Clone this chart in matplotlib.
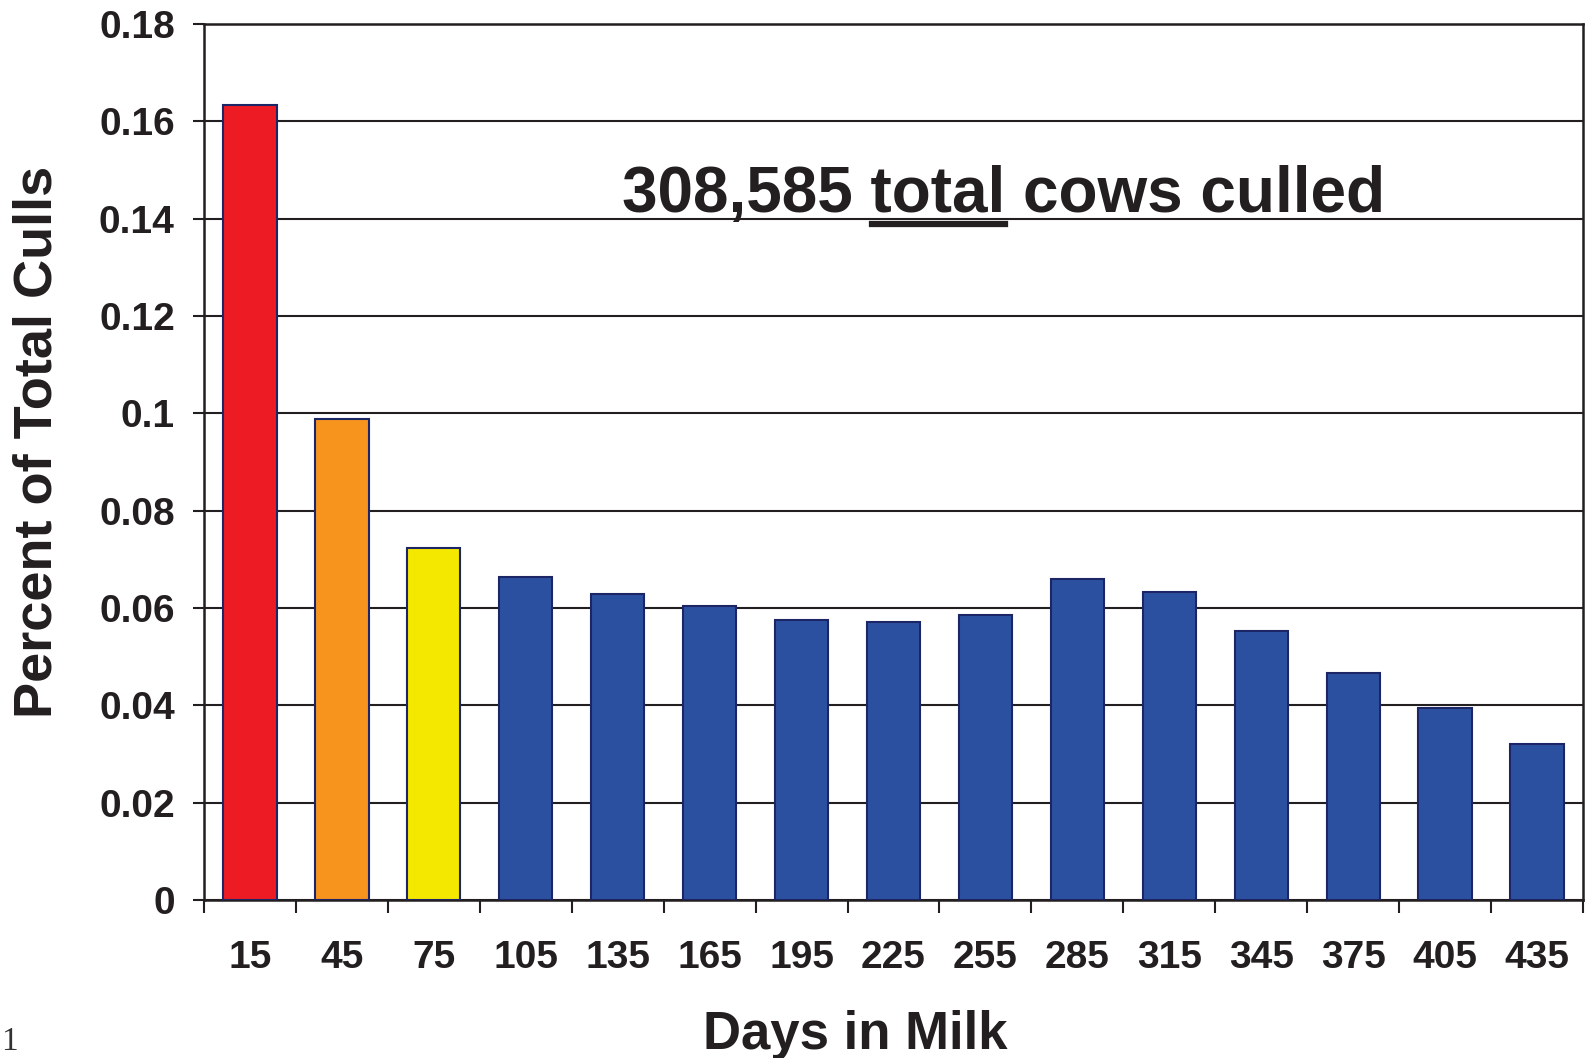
import matplotlib
matplotlib.use("Agg")
import matplotlib.pyplot as plt
from matplotlib.lines import Line2D
import numpy as np

plt.rcParams['font.family'] = ['Liberation Sans', 'DejaVu Sans']

days = ['15', '45', '75', '105', '135', '165', '195', '225', '255', '285',
        '315', '345', '375', '405', '435']
values = [0.1634, 0.0988, 0.0723, 0.0663, 0.0628, 0.0605, 0.0576, 0.0571,
          0.0586, 0.0659, 0.0632, 0.0553, 0.0467, 0.0394, 0.0321]
bar_colors = ['#ED1C24', '#F7941D', '#F5E800'] + ['#2C50A0'] * 12
ytick_vals = [0, 0.02, 0.04, 0.06, 0.08, 0.1, 0.12, 0.14, 0.16, 0.18]
ytick_labels = ['0', '0.02', '0.04', '0.06', '0.08', '0.1', '0.12', '0.14', '0.16', '0.18']
annotation_parts = ['308,585 ', 'total', ' cows culled']

W, H = 1593, 1058
fig = plt.figure(figsize=(W / 100, H / 100), dpi=100)
ax = fig.add_axes([204 / W, 1 - 900 / H, (1583 - 204) / W, (900 - 24) / H])

dark = '#231F20'
x = np.arange(len(days))
ax.bar(x, values, width=0.58, color=bar_colors, edgecolor='#1C2566',
       linewidth=1.5, zorder=3)

ax.set_xlim(-0.5, len(days) - 0.5)
ax.set_ylim(0, 0.18)
ax.set_yticks(ytick_vals)
ax.set_yticklabels(ytick_labels)
ax.yaxis.grid(True, color=dark, linewidth=1.5, zorder=0)
ax.set_axisbelow(True)

ax.set_xticks(x)
ax.set_xticklabels(days)
ax.set_xticks(np.arange(len(days) + 1) - 0.5, minor=True)
ax.tick_params(axis='x', which='major', length=0, pad=29, labelsize=28,
               labelcolor=dark)
ax.tick_params(axis='x', which='minor', length=9, width=1.5, color=dark,
               direction='out')
ax.tick_params(axis='y', which='major', length=8, width=1.5, color=dark,
               direction='out', pad=13, labelsize=28, labelcolor=dark)
for lab in ax.get_xticklabels() + ax.get_yticklabels():
    lab.set_fontweight('bold')

for s in ax.spines.values():
    s.set_color(dark)
    s.set_linewidth(1.8)

fig.text(38 / W, 1 - 442 / H, 'Percent of Total Culls', rotation=90,
         ha='center', va='center', fontsize=39, fontweight='bold', color=dark)
fig.text(855 / W, 1 - 1035 / H, 'Days in Milk', ha='center', va='center',
         fontsize=38, fontweight='bold', color=dark)

# annotation with underlined word
tx, ty = 622 / W, 1 - 212 / H
fs = 46
full = fig.text(tx, ty, ''.join(annotation_parts), ha='left', va='baseline',
                fontsize=fs, fontweight='bold', color=dark)
fig.canvas.draw()
r = fig.canvas.get_renderer()
t1 = fig.text(tx, ty, annotation_parts[0], ha='left', va='baseline',
              fontsize=fs, fontweight='bold', alpha=0)
t2 = fig.text(tx, ty, annotation_parts[0] + annotation_parts[1], ha='left',
              va='baseline', fontsize=fs, fontweight='bold', alpha=0)
b1 = t1.get_window_extent(r)
b2 = t2.get_window_extent(r)
uy = 1 - 223.5 / H
fig.add_artist(Line2D([b1.x1 / W + 0.001, b2.x1 / W], [uy, uy], color=dark,
                      linewidth=4.5, transform=fig.transFigure))
t1.remove()
t2.remove()

fig.text(0.001, 1 - 1050 / H, '1', ha='left', va='baseline', fontsize=24,
         family='Liberation Serif', color='#333333')

fig.savefig('out.png', dpi=100, facecolor='white')
